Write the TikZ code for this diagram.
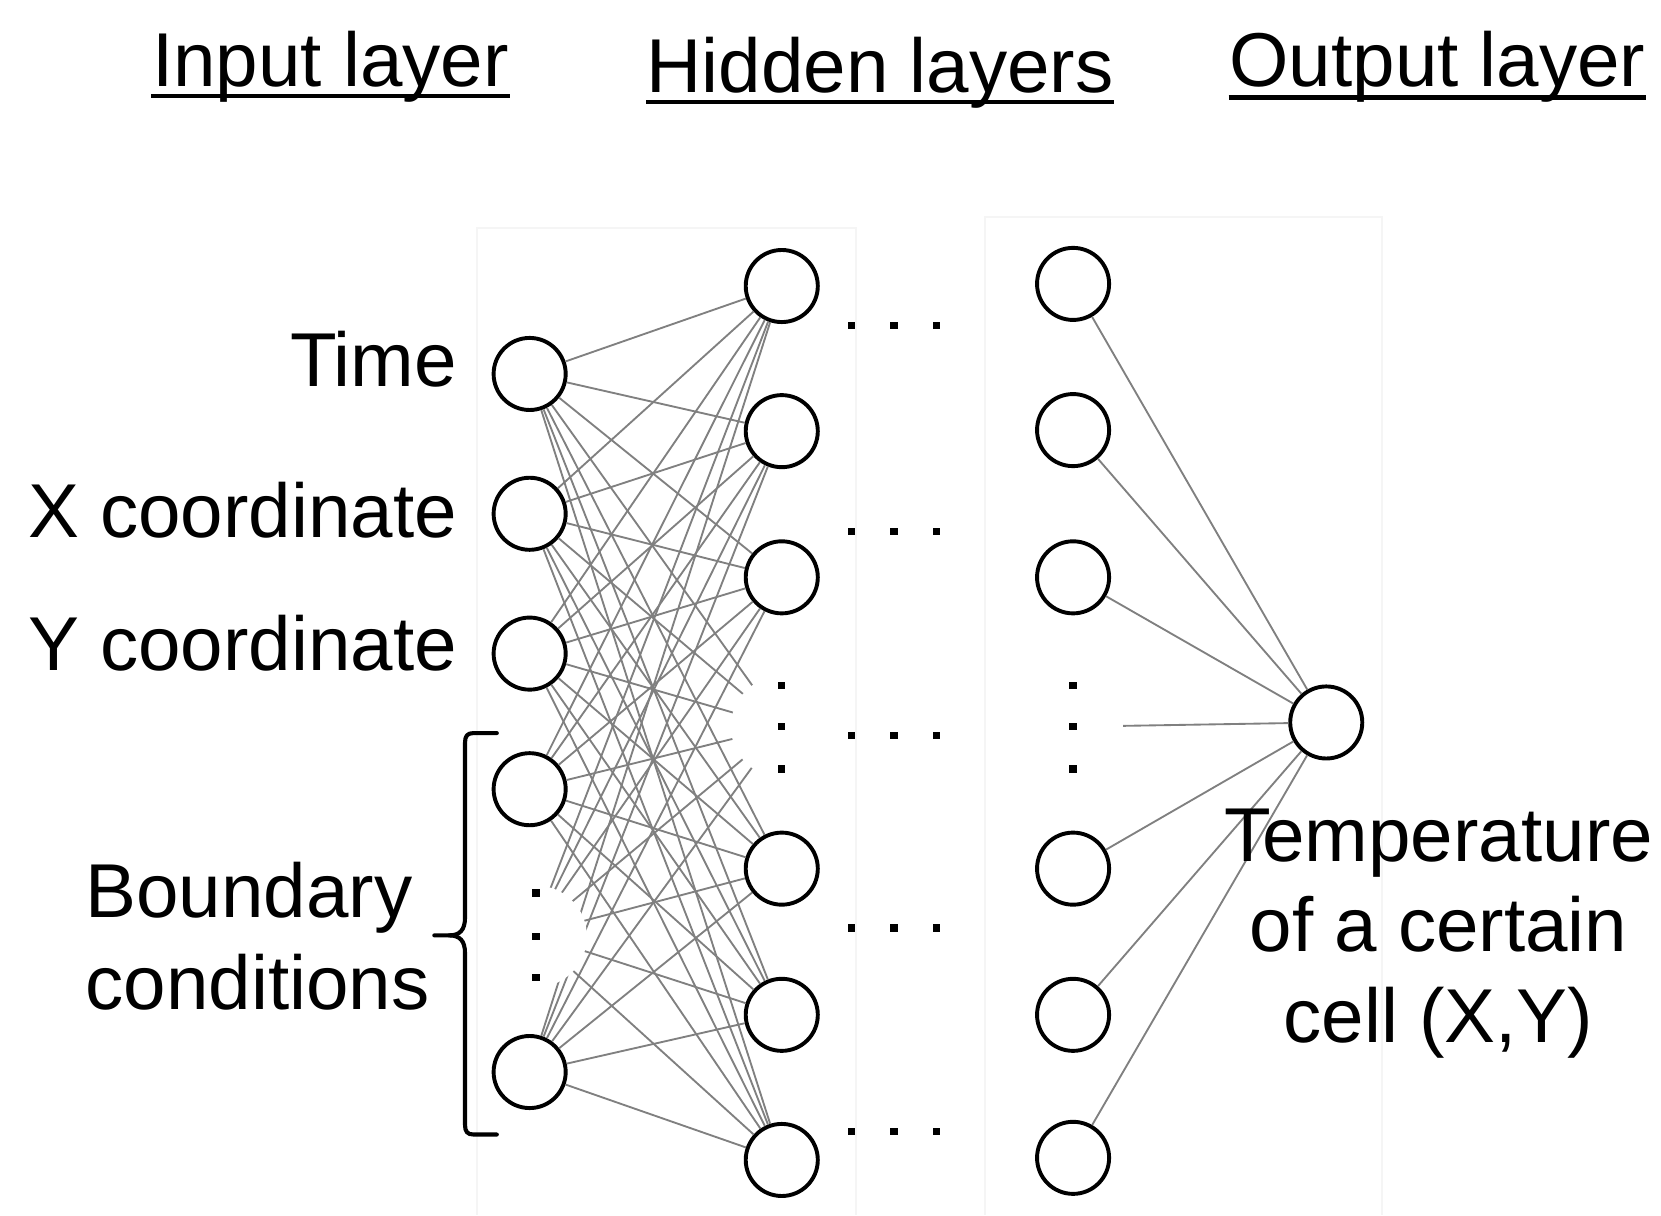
\documentclass[tikz,border=0pt]{standalone}
\usepackage{fontspec}
\setmainfont{Liberation Sans}
\newcommand\sqdot[2]{\fill[black] (#1-3.4,#2-3.4) rectangle (#1+3.4,#2+3.4);}
\begin{document}
\begin{tikzpicture}[x=0.01cm,y=-0.01cm,
  neuron/.style={circle,draw=black,line width=1.05pt,fill=white,minimum size=0.68cm,inner sep=0pt},
  conn/.style={draw=black!50,line width=0.5pt},
  lbl/.style={font=\fontsize{20.5}{24}\selectfont,inner sep=0pt},
  uline/.style={line width=1.1pt},
  bracestyle/.style={line width=1.1pt,line cap=round,line join=round},
  patch/.style={fill=white,draw=none},
  faint/.style={draw=black!4,line width=0.5pt}]
\useasboundingbox (0,0) rectangle (1568,1147);

% faint background frames
\draw[faint] (450,1147) -- (450,215) -- (808,215) -- (808,1147);
\draw[faint] (930,1147) -- (930,205) -- (1305,205) -- (1305,1147);

% input layer
\node[neuron] (i1) at (500,353) {};
\node[neuron] (i2) at (500,485) {};
\node[neuron] (i3) at (500,617) {};
\node[neuron] (i4) at (500,745) {};
\node[neuron] (i5) at (500,1012) {};
\coordinate (ig) at (503,882);

% hidden layer 1
\node[neuron] (h1) at (738,270) {};
\node[neuron] (h2) at (738,407) {};
\node[neuron] (h3) at (738,545) {};
\node[neuron] (h4) at (738,820) {};
\node[neuron] (h5) at (738,958) {};
\node[neuron] (h6) at (738,1095) {};
\coordinate (hg) at (738,686);

% hidden layer 2
\node[neuron] (g1) at (1013,268) {};
\node[neuron] (g2) at (1013,406) {};
\node[neuron] (g3) at (1013,545) {};
\node[neuron] (g4) at (1013,820) {};
\node[neuron] (g5) at (1013,958) {};
\node[neuron] (g6) at (1013,1093) {};
\coordinate (gg) at (1013,686);

% output
\node[neuron] (out) at (1252,682) {};

% connections
\foreach \a in {i1,i2,i3,i4,i5,ig}
  \foreach \b in {h1,h2,h3,h4,h5,h6,hg}
    \draw[conn] (\a) -- (\b);
\foreach \a in {g1,g2,g3,g4,g5,g6,gg}
  \draw[conn] (\a) -- (out);

% white patches around the ellipsis dots
\fill[patch] (506,884) circle[radius=0.48cm];
\fill[patch] (738,686) circle[radius=0.48cm];
\fill[patch] (1013,686) circle[radius=0.47cm];

% vertical dots
\sqdot{506}{843}\sqdot{506}{884}\sqdot{506}{923}
\sqdot{738}{647}\sqdot{738}{686}\sqdot{738}{726}
\sqdot{1013}{647}\sqdot{1013}{686}\sqdot{1013}{726}
% horizontal dots between hidden layers
\foreach \yy in {307,502,694,876,1068}{
  \sqdot{804}{\yy}\sqdot{844}{\yy}\sqdot{884}{\yy}
}

% brace
\draw[bracestyle] (469,692) -- (447,692) .. controls (441,692) and (439,695) .. (439,701)
  -- (439,866) .. controls (439,878) and (434,883) .. (424,883) -- (410,883);
\draw[bracestyle] (424,883) .. controls (434,883) and (439,888) .. (439,900)
  -- (439,1062) .. controls (439,1068) and (441,1071) .. (447,1071) -- (469,1071);

% labels
\node[lbl,anchor=base east] (tTime) at (432,365) {Time};
\node[lbl,anchor=base east] (tX) at (432,507) {X coordinate};
\node[lbl,anchor=base east] (tY) at (432,633) {Y coordinate};
\node[lbl,anchor=base west] (tB1) at (80,866) {Boundary};
\node[lbl,anchor=base west] (tB2) at (80,953) {conditions};
\node[lbl,anchor=base] (tT1) at (1358,813) {Temperature};
\node[lbl,anchor=base] (tT2) at (1358,898) {of a certain};
\node[lbl,anchor=base] (tT3) at (1358,984) {cell (X,Y)};

% headers
\node[lbl,anchor=base] (hin) at (312,82) {Input layer};
\node[lbl,anchor=base] (hhid) at (831,87) {Hidden layers};
\node[lbl,anchor=base] (hout) at (1357,82) {Output layer};
\draw[uline] ([yshift=-0.09cm]hin.base west) -- ([yshift=-0.09cm]hin.base east);
\draw[uline] ([yshift=-0.09cm]hhid.base west) -- ([yshift=-0.09cm]hhid.base east);
\draw[uline] ([yshift=-0.10cm]hout.base west) -- ([yshift=-0.10cm]hout.base east);
\end{tikzpicture}
\end{document}
